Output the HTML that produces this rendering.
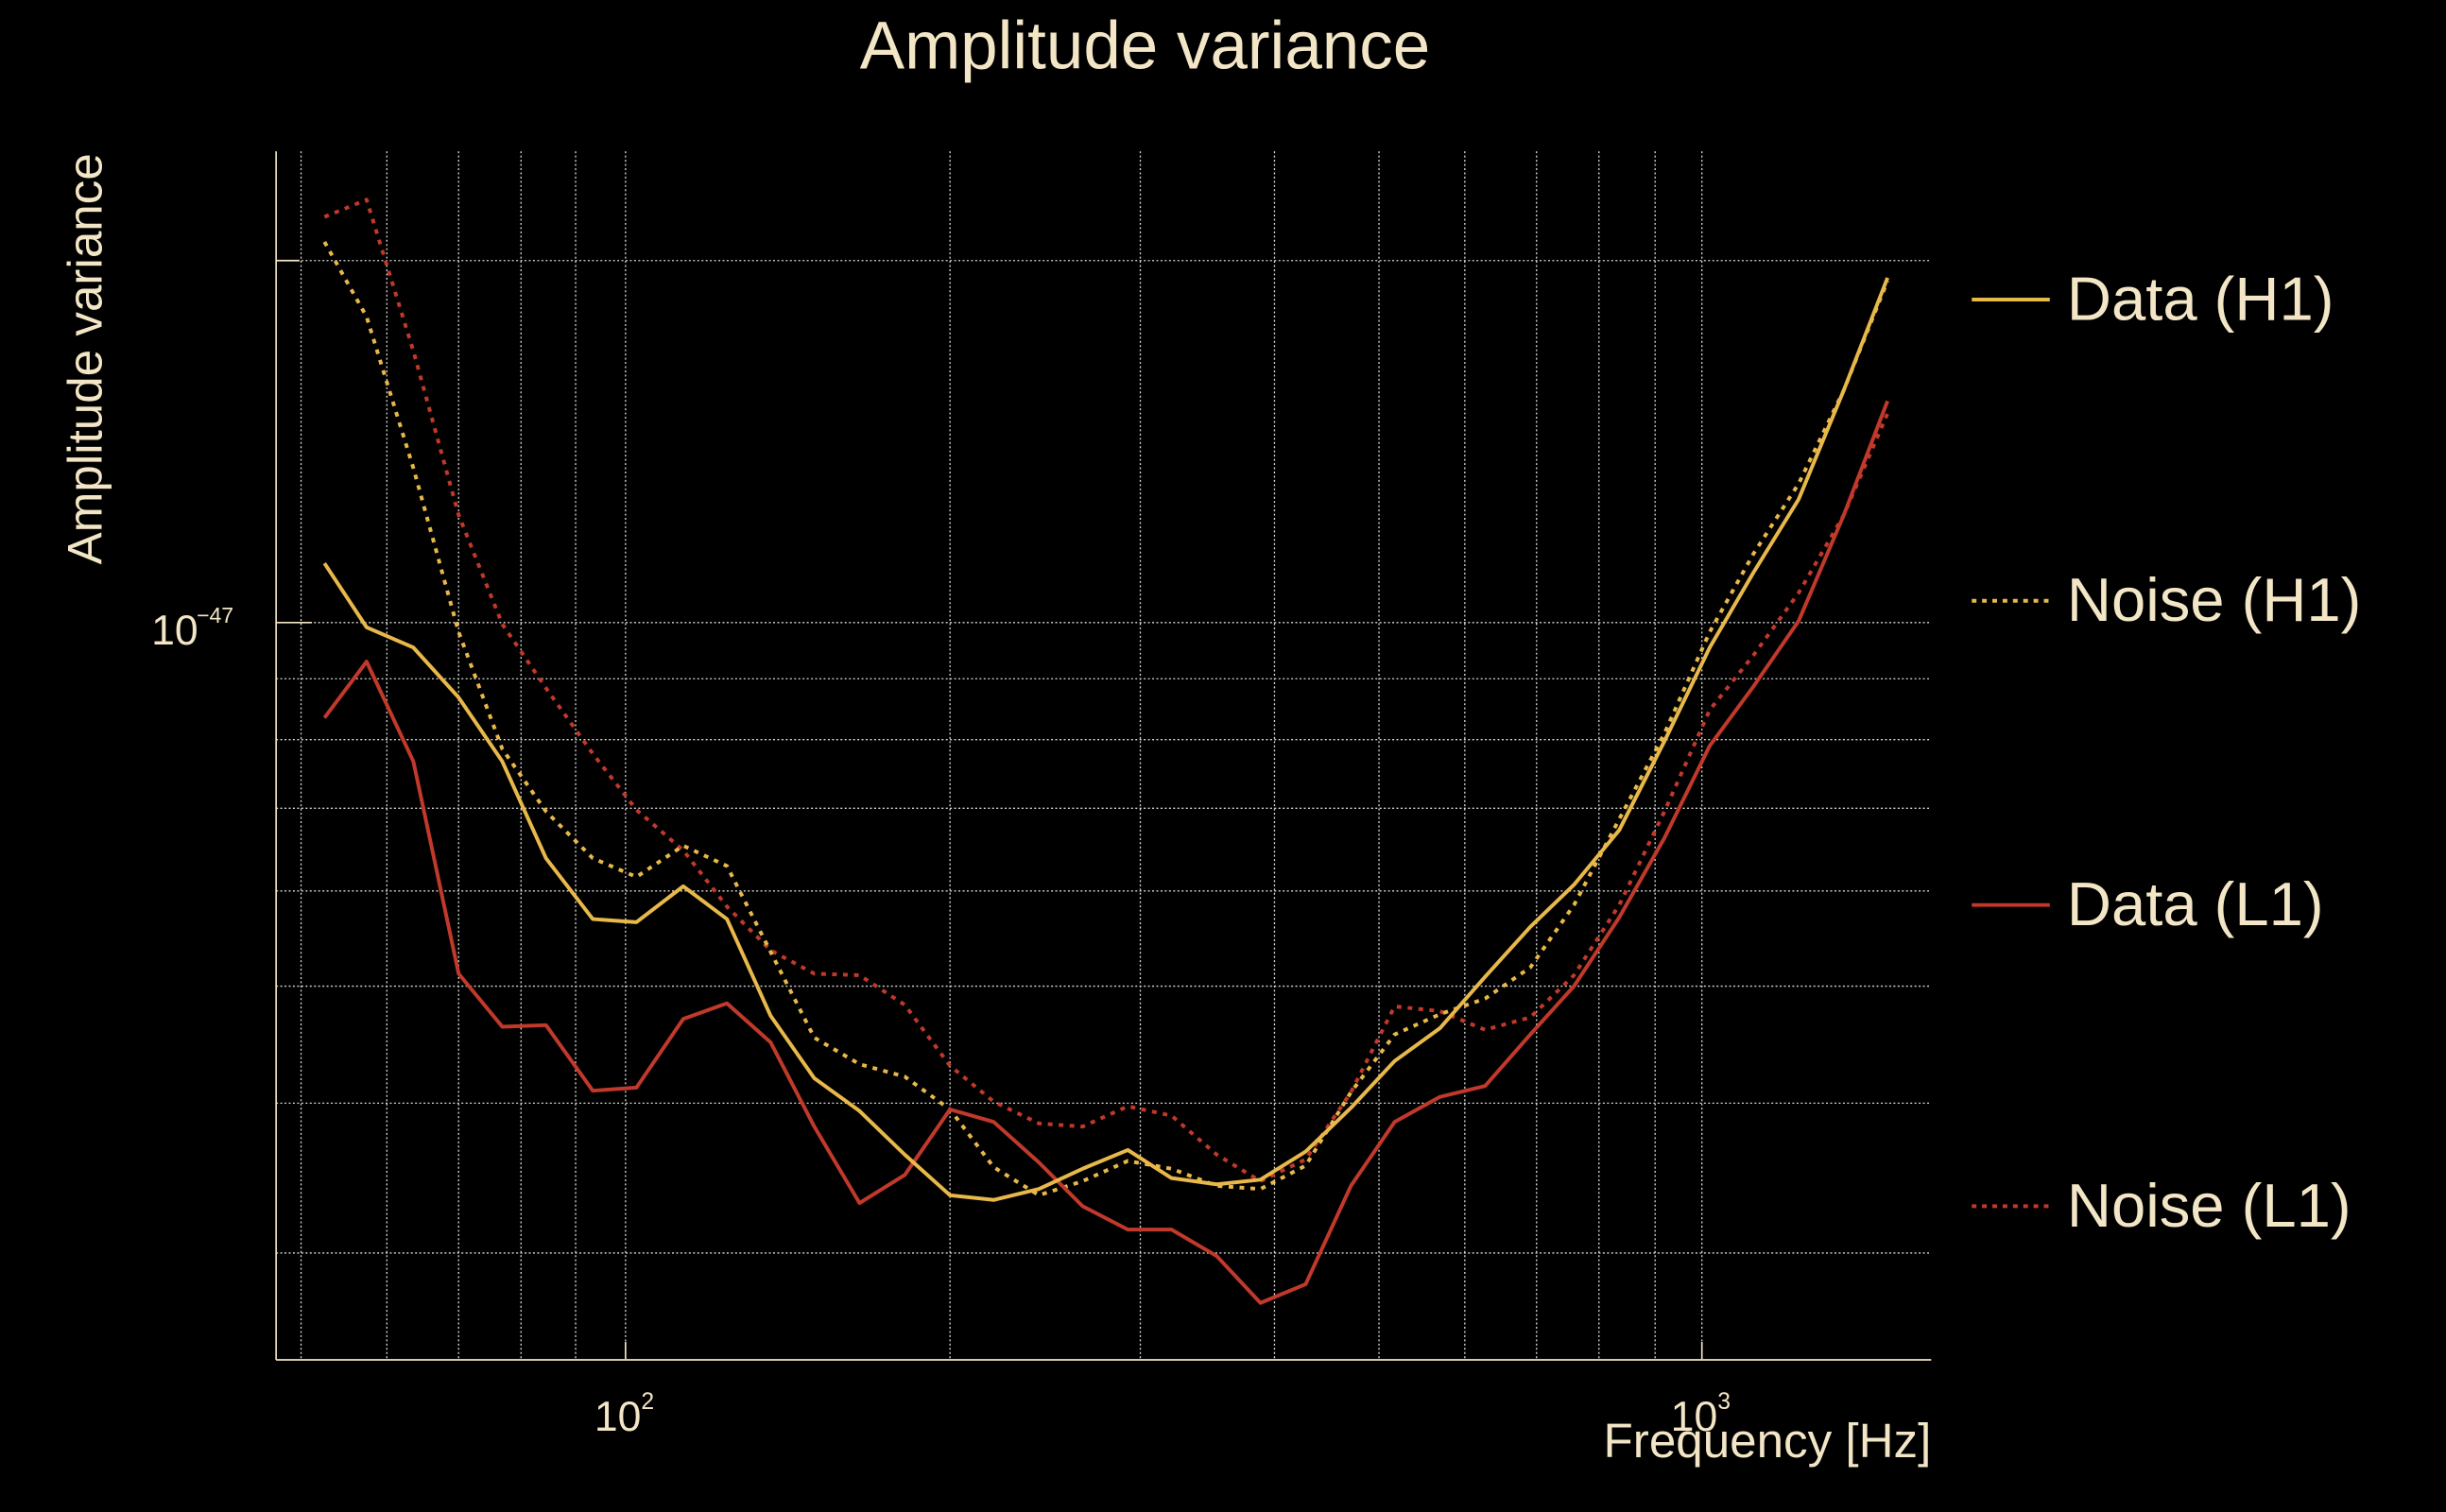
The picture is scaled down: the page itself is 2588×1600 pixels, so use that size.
<!DOCTYPE html>
<html><head><meta charset="utf-8"><style>
html,body{margin:0;padding:0;background:#000;}
svg{display:block;}
text{font-family:"Liberation Sans",sans-serif;fill:#f3e6c6;}
</style></head><body>
<svg width="2588" height="1600" viewBox="0 0 1568 969" preserveAspectRatio="none" xmlns="http://www.w3.org/2000/svg">
<rect width="1568" height="969" fill="#000"/>
<g stroke="#ffffff" stroke-width="0.8" stroke-dasharray="1.2,1.5" fill="none" opacity="0.85">
<line x1="193" y1="97" x2="193" y2="871"/><line x1="248" y1="97" x2="248" y2="871"/><line x1="294" y1="97" x2="294" y2="871"/><line x1="334" y1="97" x2="334" y2="871"/><line x1="369" y1="97" x2="369" y2="871"/><line x1="401" y1="97" x2="401" y2="871"/><line x1="609" y1="97" x2="609" y2="871"/><line x1="731" y1="97" x2="731" y2="871"/><line x1="817" y1="97" x2="817" y2="871"/><line x1="884" y1="97" x2="884" y2="871"/><line x1="939" y1="97" x2="939" y2="871"/><line x1="985" y1="97" x2="985" y2="871"/><line x1="1025" y1="97" x2="1025" y2="871"/><line x1="1061" y1="97" x2="1061" y2="871"/><line x1="1091" y1="97" x2="1091" y2="871"/>
<line x1="177" y1="167" x2="1238" y2="167"/><line x1="177" y1="399" x2="1238" y2="399"/><line x1="177" y1="435" x2="1238" y2="435"/><line x1="177" y1="474" x2="1238" y2="474"/><line x1="177" y1="518" x2="1238" y2="518"/><line x1="177" y1="571" x2="1238" y2="571"/><line x1="177" y1="632" x2="1238" y2="632"/><line x1="177" y1="707" x2="1238" y2="707"/><line x1="177" y1="803" x2="1238" y2="803"/>
</g>
<g stroke="#f3e6c6" stroke-width="1">
<line x1="177" y1="97" x2="177" y2="871.5"/><line x1="177" y1="871.5" x2="1238" y2="871.5"/>
<line x1="177" y1="399" x2="200" y2="399"/><line x1="177" y1="167" x2="192" y2="167"/>
<line x1="401" y1="871" x2="401" y2="860"/><line x1="1091" y1="871" x2="1091" y2="860"/>
</g>
<g fill="none" stroke-width="2.4" stroke-linejoin="round">
<polyline stroke="#c0392b" stroke-dasharray="3,4" points="208,139 235,128 265,225 294,330 322,400 350,441 380,483 408,519 438,545 466,581 494,609 522,624 551,625 580,644 609,683 637,706 666,720 694,722 723,709 751,715 780,740 808,757 837,743 866,700 894,645 923,648 952,660 981,652 1009,625 1038,580 1067,520 1096,455 1124,420 1153,380 1182,330 1210,265"/>
<polyline stroke="#e8b84a" stroke-dasharray="3,4" points="208,155 235,203 265,300 294,405 322,480 350,520 380,550 408,562 438,542 466,555 494,610 522,665 551,682 580,690 609,711 637,748 666,766 694,757 723,744 751,749 780,760 808,762 837,747 866,700 894,663 923,650 952,640 981,620 1009,580 1038,525 1067,470 1096,405 1124,355 1153,310 1182,250 1210,180"/>
<polyline stroke="#c0392b" points="208,460 235,424 265,488 294,624 322,658 350,657 380,699 408,697 438,653 466,643 494,668 522,722 551,771 580,753 609,711 637,719 666,745 694,773 723,788 751,788 780,805 808,835 837,823 866,760 894,719 923,703 952,696 981,663 1009,632 1038,588 1067,537 1096,478 1124,440 1153,398 1182,330 1210,257"/>
<polyline stroke="#e8b84a" points="208,361 235,402 265,415 294,447 322,488 350,550 380,589 408,591 438,568 466,589 494,651 522,691 551,712 580,740 609,766 637,769 666,762 694,749 723,737 751,755 780,759 808,756 837,738 866,710 894,680 923,659 952,626 981,594 1009,567 1038,532 1067,475 1096,415 1124,367 1153,320 1182,250 1210,178"/>
</g>
<text x="734" y="44" font-size="43" text-anchor="middle">Amplitude variance</text>
<text transform="translate(65,230) rotate(-90)" font-size="31" text-anchor="middle">Amplitude variance</text>
<text x="97" y="413" font-size="27">10</text>
<text x="126" y="399" font-size="14">−47</text>
<text x="381" y="917" font-size="27">10</text>
<text x="411" y="903" font-size="15">2</text>
<text x="1071" y="917" font-size="27">10</text>
<text x="1101" y="903" font-size="15">3</text>
<text x="1238" y="934" font-size="31" text-anchor="end">Frequency [Hz]</text>
<g stroke-width="2.4">
<line x1="1264" y1="192" x2="1314" y2="192" stroke="#e8b84a"/>
<line x1="1264" y1="385" x2="1314" y2="385" stroke="#e8b84a" stroke-dasharray="3,3.6"/>
<line x1="1264" y1="580" x2="1314" y2="580" stroke="#c0392b"/>
<line x1="1264" y1="773" x2="1314" y2="773" stroke="#c0392b" stroke-dasharray="3,3.6"/>
</g>
<g font-size="39.5">
<text x="1325" y="205">Data (H1)</text>
<text x="1325" y="398">Noise (H1)</text>
<text x="1325" y="593">Data (L1)</text>
<text x="1325" y="786">Noise (L1)</text>
</g>
</svg>
</body></html>
